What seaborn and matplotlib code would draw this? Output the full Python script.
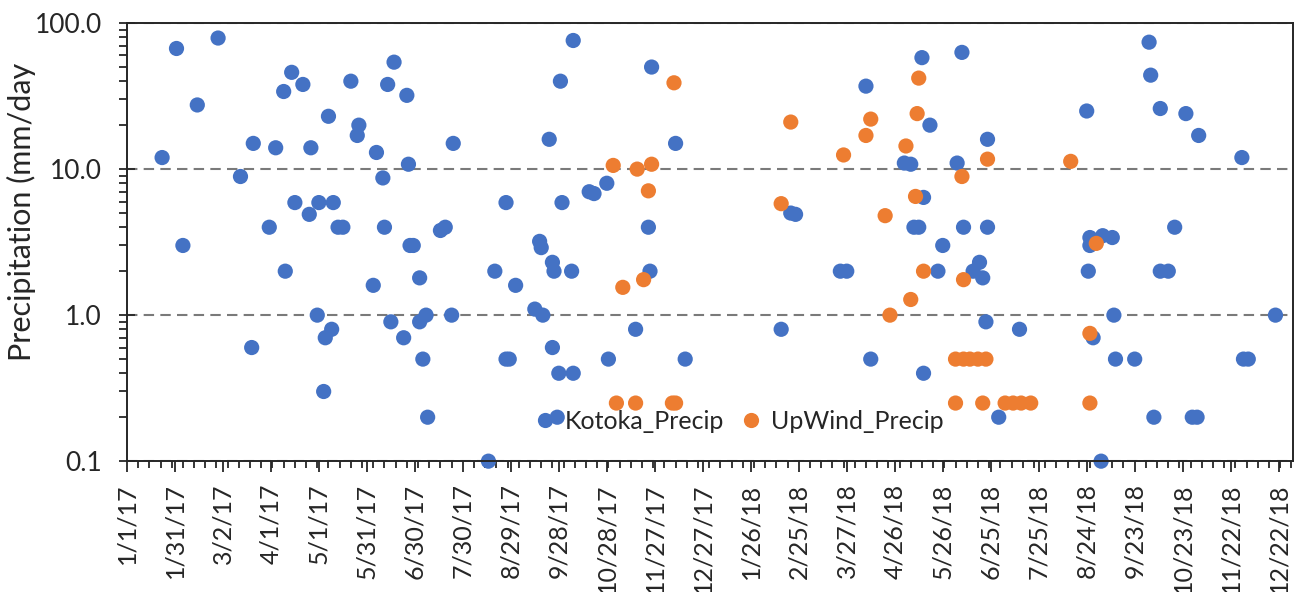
import numpy as np
import pandas as pd
import matplotlib
matplotlib.use("Agg")
import matplotlib.pyplot as plt
import matplotlib.ticker as mticker
import seaborn as sns

# ---------------- data ----------------
kotoka_dates = [
    "1/23/17", "2/1/17", "2/5/17", "2/14/17", "2/27/17", "3/13/17", "3/20/17", "3/21/17",
    "3/31/17", "4/4/17", "4/9/17", "4/10/17", "4/14/17", "4/16/17", "4/21/17", "4/25/17",
    "4/26/17", "4/30/17", "5/1/17", "5/4/17", "5/5/17", "5/7/17", "5/9/17", "5/10/17",
    "5/13/17", "5/16/17", "5/21/17", "5/25/17", "5/26/17", "6/4/17", "6/6/17", "6/10/17",
    "6/11/17", "6/13/17", "6/15/17", "6/17/17", "6/23/17", "6/25/17", "6/26/17", "6/27/17",
    "6/29/17", "7/3/17", "7/3/17", "7/5/17", "7/7/17", "7/8/17", "7/16/17", "7/19/17",
    "7/23/17", "7/24/17", "8/15/17", "8/19/17", "8/26/17", "8/28/17", "8/26/17", "9/1/17",
    "9/13/17", "9/18/17", "9/16/17", "9/17/17", "9/22/17", "9/24/17", "9/24/17", "9/25/17",
    "9/27/17", "9/28/17", "9/29/17", "9/30/17", "10/6/17", "10/7/17", "10/7/17", "10/17/17",
    "10/20/17", "10/28/17", "10/29/17", "11/15/17", "11/23/17", "11/24/17", "11/25/17",
    "12/10/17", "12/16/17",
    "2/14/18", "2/20/18", "2/23/18", "3/23/18", "3/27/18", "4/8/18", "4/11/18", "5/2/18",
    "5/6/18", "5/8/18", "5/11/18", "5/13/18", "5/14/18", "5/14/18", "5/18/18", "5/23/18",
    "5/26/18", "6/4/18", "6/7/18", "6/8/18", "6/14/18", "6/18/18", "6/20/18", "6/23/18",
    "6/23/18", "6/22/18", "6/30/18", "7/13/18", "8/24/18", "8/25/18", "8/26/18", "8/26/18",
    "8/28/18", "9/2/18", "9/3/18", "9/9/18", "9/10/18", "9/11/18", "9/23/18", "10/2/18",
    "10/3/18", "10/5/18", "10/9/18", "10/9/18", "10/14/18", "10/18/18", "10/25/18",
    "10/29/18", "11/1/18", "11/2/18", "11/29/18", "11/30/18", "12/3/18", "12/20/18",
]
kotoka_precip = [
    12.0, 67, 3.0, 27.5, 79, 8.9, 0.6, 15,
    4.0, 14, 34, 2.0, 46, 5.9, 38, 4.9,
    14, 1.0, 5.9, 0.3, 0.7, 23, 0.8, 5.9,
    4.0, 4.0, 40, 17, 20, 1.6, 13, 8.7,
    4.0, 38, 0.9, 54, 0.7, 32, 10.8, 3.0,
    3.0, 1.8, 0.9, 0.5, 1.0, 0.2, 3.8, 4.0,
    1.0, 15, 0.1, 2.0, 0.5, 0.5, 5.9, 1.6,
    1.1, 1.0, 3.2, 2.9, 16, 0.6, 2.3, 2.0,
    0.2, 0.4, 40, 5.9, 2.0, 0.4, 76, 7.0,
    6.8, 8.0, 0.5, 0.8, 4.0, 2.0, 50,
    15, 0.5,
    0.8, 5.0, 4.9, 2.0, 2.0, 37, 0.5, 11,
    10.8, 4.0, 4.0, 58, 6.4, 0.4, 20, 2.0,
    3.0, 11, 63, 4.0, 2.0, 2.3, 1.8, 16,
    4.0, 0.9, 0.2, 0.8, 25, 2.0, 3.0, 3.4,
    0.7, 0.1, 3.5, 3.4, 1.0, 0.5, 0.5, 74,
    44, 0.2, 26, 2.0, 2.0, 4.0, 24,
    0.2, 0.2, 17, 12, 0.5, 0.5, 1.0,
]

upwind_dates = [
    "11/1/17", "11/3/17", "11/7/17", "11/15/17", "11/16/17", "11/20/17", "11/23/17",
    "11/25/17", "12/8/17", "12/10/17", "12/9/17",
    "2/14/18", "2/20/18", "3/25/18", "4/8/18", "4/11/18", "4/20/18", "4/23/18", "5/3/18",
    "5/6/18", "5/9/18", "5/10/18", "5/11/18", "5/14/18", "6/3/18", "6/3/18", "6/8/18",
    "6/12/18", "6/17/18", "6/22/18", "6/7/18", "6/8/18", "6/20/18", "6/23/18", "7/4/18",
    "7/9/18", "7/14/18", "7/20/18", "8/14/18", "8/26/18", "8/26/18", "8/30/18",
]
upwind_precip = [
    10.6, 0.25, 1.55, 0.25, 10.0, 1.75, 7.1,
    10.8, 0.25, 0.25, 39,
    5.8, 21, 12.5, 17, 22, 4.8, 1.0, 14.4,
    1.28, 6.5, 24, 42, 2.0, 0.25, 0.5, 0.5,
    0.5, 0.5, 0.5, 8.9, 1.75, 0.25, 11.7, 0.25,
    0.25, 0.25, 0.25, 11.3, 0.75, 0.25, 3.1,
]

series_names = ["Kotoka_Precip", "UpWind_Precip"]
series_colors = ["#4472C4", "#ED7D31"]

x_tick_labels = [
    "1/1/17", "1/31/17", "3/2/17", "4/1/17", "5/1/17", "5/31/17", "6/30/17", "7/30/17",
    "8/29/17", "9/28/17", "10/28/17", "11/27/17", "12/27/17", "1/26/18", "2/25/18",
    "3/27/18", "4/26/18", "5/26/18", "6/25/18", "7/25/18", "8/24/18", "9/23/18",
    "10/23/18", "11/22/18", "12/22/18",
]
y_ticks = [0.1, 1, 10, 100]
y_tick_labels = ["0.1", "1.0", "10.0", "100.0"]
y_label = "Precipitation (mm/day"

# ---------------- frame ----------------
df = pd.concat([
    pd.DataFrame({"date": pd.to_datetime(kotoka_dates, format="%m/%d/%y"),
                  "precip": kotoka_precip, "series": series_names[0]}),
    pd.DataFrame({"date": pd.to_datetime(upwind_dates, format="%m/%d/%y"),
                  "precip": upwind_precip, "series": series_names[1]}),
], ignore_index=True)

sns.set_theme(style="white")
plt.rcParams["font.family"] = ["Lato", "DejaVu Sans"]

fig, ax = plt.subplots(figsize=(12.95, 5.92), dpi=100)
fig.subplots_adjust(left=0.098, right=0.9985, top=0.961, bottom=0.221)

sns.scatterplot(data=df, x="date", y="precip", hue="series",
                hue_order=series_names, palette=series_colors,
                s=120, linewidth=0, alpha=1, ax=ax, zorder=3, legend=True)
for coll in ax.collections:
    coll.set_clip_on(False)

ax.set_yscale("log")
ax.set_ylim(0.1, 100)
ax.set_yticks(y_ticks)
ax.set_yticklabels(y_tick_labels)
ax.yaxis.set_minor_locator(mticker.LogLocator(base=10, subs=np.arange(2, 10)))
ax.yaxis.set_minor_formatter(mticker.NullFormatter())

tick_dates = pd.to_datetime(x_tick_labels, format="%m/%d/%y")
ax.set_xlim(pd.Timestamp("2017-01-01"), pd.Timestamp("2018-12-31"))
ax.set_xticks(tick_dates)
ax.set_xticklabels(x_tick_labels, rotation=90)
ax.set_xticks(pd.date_range("2017-01-01", "2018-12-31", freq="7D"), minor=True)

ax.set_xlabel("")
ax.set_ylabel(y_label, fontsize=22, color="#262626")
ax.yaxis.set_label_coords(-0.078, 0.57)

ax.tick_params(axis="y", which="major", direction="inout", length=12, width=1.3,
               labelsize=19, pad=12, colors="#262626", left=True)
ax.tick_params(axis="y", which="minor", direction="out", length=6, width=1.3,
               colors="#262626", left=True)
ax.tick_params(axis="x", which="major", direction="out", length=8, width=1.3,
               labelsize=18, pad=8, colors="#262626", bottom=True)
ax.tick_params(axis="x", which="minor", direction="out", length=5, width=1.3,
               colors="#262626", bottom=True)

ax.grid(False)
ax.yaxis.grid(True, which="major", color="#7a7a7a", linestyle=(0, (5, 3)), linewidth=1.5)
ax.set_axisbelow(True)

for sp in ax.spines.values():
    sp.set_visible(True)
    sp.set_color("#262626")
    sp.set_linewidth(1.4)
    sp.set_zorder(4)

sns.move_legend(ax, loc="center", bbox_to_anchor=(0.525, 0.091), ncol=2,
                frameon=False, title=None, fontsize=18, handletextpad=0.4,
                handlelength=0.8, columnspacing=0.66, markerscale=1.0, borderaxespad=0)

fig.savefig("out.png", dpi=100)
